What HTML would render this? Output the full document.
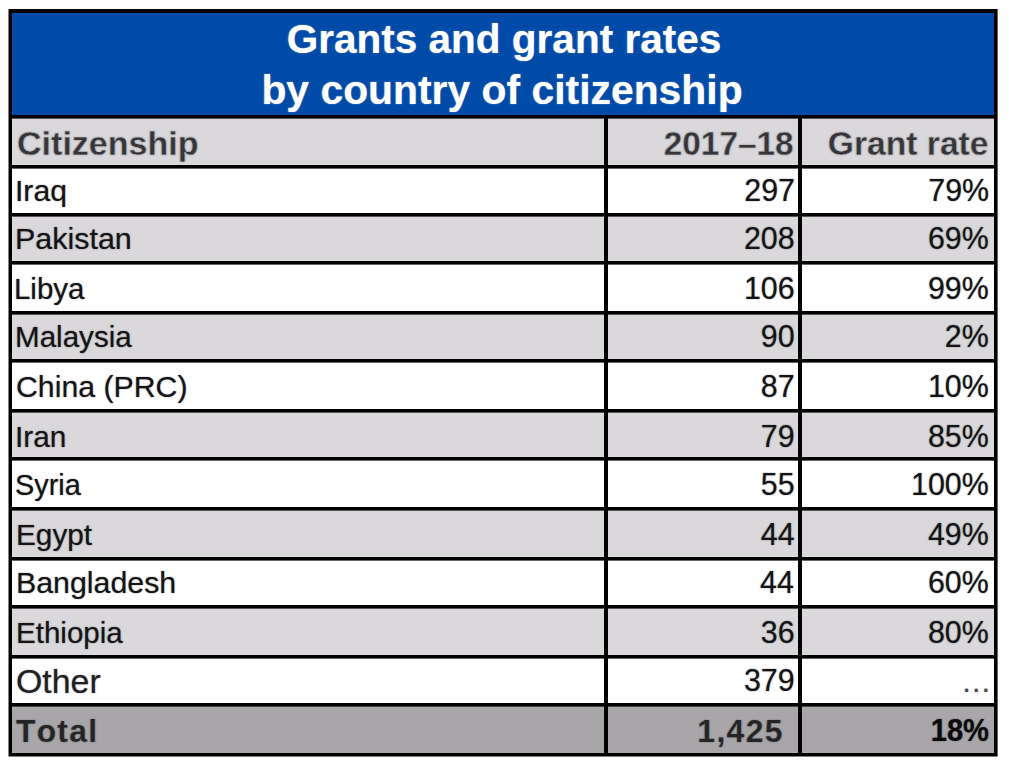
<!DOCTYPE html>
<html><head><meta charset="utf-8"><title>Grants and grant rates by country of citizenship</title>
<style>
html,body{margin:0;padding:0;}
body{width:1009px;height:771px;background:#fefefe;position:relative;overflow:hidden;font-family:"Liberation Sans",sans-serif;}
.b,.t{position:absolute;}
.t{white-space:nowrap;line-height:normal;}
#w{position:absolute;left:0;top:0;width:1009px;height:771px;background:#fefefe;}
#tw{position:absolute;left:0;top:0;width:1009px;height:771px;}
</style></head><body><div id="w">
<div class="b" style="left:8px;top:9px;width:990px;height:748px;background:#000;"></div>
<div class="b" style="left:12px;top:13px;width:982px;height:102px;background:#004aa8;"></div>
<div class="b" style="left:12px;top:119px;width:592px;height:46px;background:#dad8da;"></div>
<div class="b" style="left:608px;top:119px;width:190px;height:46px;background:#dad8da;"></div>
<div class="b" style="left:802px;top:119px;width:192px;height:46px;background:#dad8da;"></div>
<div class="b" style="left:12px;top:169px;width:592px;height:44px;background:#ffffff;"></div>
<div class="b" style="left:608px;top:169px;width:190px;height:44px;background:#ffffff;"></div>
<div class="b" style="left:802px;top:169px;width:192px;height:44px;background:#ffffff;"></div>
<div class="b" style="left:12px;top:217px;width:592px;height:44px;background:#dad8da;"></div>
<div class="b" style="left:608px;top:217px;width:190px;height:44px;background:#dad8da;"></div>
<div class="b" style="left:802px;top:217px;width:192px;height:44px;background:#dad8da;"></div>
<div class="b" style="left:12px;top:265px;width:592px;height:46px;background:#ffffff;"></div>
<div class="b" style="left:608px;top:265px;width:190px;height:46px;background:#ffffff;"></div>
<div class="b" style="left:802px;top:265px;width:192px;height:46px;background:#ffffff;"></div>
<div class="b" style="left:12px;top:315px;width:592px;height:44px;background:#dad8da;"></div>
<div class="b" style="left:608px;top:315px;width:190px;height:44px;background:#dad8da;"></div>
<div class="b" style="left:802px;top:315px;width:192px;height:44px;background:#dad8da;"></div>
<div class="b" style="left:12px;top:363px;width:592px;height:46px;background:#ffffff;"></div>
<div class="b" style="left:608px;top:363px;width:190px;height:46px;background:#ffffff;"></div>
<div class="b" style="left:802px;top:363px;width:192px;height:46px;background:#ffffff;"></div>
<div class="b" style="left:12px;top:413px;width:592px;height:44px;background:#dad8da;"></div>
<div class="b" style="left:608px;top:413px;width:190px;height:44px;background:#dad8da;"></div>
<div class="b" style="left:802px;top:413px;width:192px;height:44px;background:#dad8da;"></div>
<div class="b" style="left:12px;top:461px;width:592px;height:46px;background:#ffffff;"></div>
<div class="b" style="left:608px;top:461px;width:190px;height:46px;background:#ffffff;"></div>
<div class="b" style="left:802px;top:461px;width:192px;height:46px;background:#ffffff;"></div>
<div class="b" style="left:12px;top:511px;width:592px;height:46px;background:#dad8da;"></div>
<div class="b" style="left:608px;top:511px;width:190px;height:46px;background:#dad8da;"></div>
<div class="b" style="left:802px;top:511px;width:192px;height:46px;background:#dad8da;"></div>
<div class="b" style="left:12px;top:561px;width:592px;height:44px;background:#ffffff;"></div>
<div class="b" style="left:608px;top:561px;width:190px;height:44px;background:#ffffff;"></div>
<div class="b" style="left:802px;top:561px;width:192px;height:44px;background:#ffffff;"></div>
<div class="b" style="left:12px;top:609px;width:592px;height:46px;background:#dad8da;"></div>
<div class="b" style="left:608px;top:609px;width:190px;height:46px;background:#dad8da;"></div>
<div class="b" style="left:802px;top:609px;width:192px;height:46px;background:#dad8da;"></div>
<div class="b" style="left:12px;top:659px;width:592px;height:44px;background:#ffffff;"></div>
<div class="b" style="left:608px;top:659px;width:190px;height:44px;background:#ffffff;"></div>
<div class="b" style="left:802px;top:659px;width:192px;height:44px;background:#ffffff;"></div>
<div class="b" style="left:12px;top:707px;width:592px;height:46px;background:#a8a6a8;"></div>
<div class="b" style="left:608px;top:707px;width:190px;height:46px;background:#a8a6a8;"></div>
<div class="b" style="left:802px;top:707px;width:192px;height:46px;background:#a8a6a8;"></div>
<div class="b" style="left:12px;top:118px;width:592px;height:1px;background:rgba(218,216,218,0.4);"></div>
<div class="b" style="left:608px;top:118px;width:190px;height:1px;background:rgba(218,216,218,0.4);"></div>
<div class="b" style="left:802px;top:118px;width:192px;height:1px;background:rgba(218,216,218,0.4);"></div>
<div class="b" style="left:12px;top:168px;width:592px;height:1px;background:rgba(255,255,255,0.4);"></div>
<div class="b" style="left:608px;top:168px;width:190px;height:1px;background:rgba(255,255,255,0.4);"></div>
<div class="b" style="left:802px;top:168px;width:192px;height:1px;background:rgba(255,255,255,0.4);"></div>
<div class="b" style="left:12px;top:216px;width:592px;height:1px;background:rgba(218,216,218,0.4);"></div>
<div class="b" style="left:608px;top:216px;width:190px;height:1px;background:rgba(218,216,218,0.4);"></div>
<div class="b" style="left:802px;top:216px;width:192px;height:1px;background:rgba(218,216,218,0.4);"></div>
<div class="b" style="left:12px;top:264px;width:592px;height:1px;background:rgba(255,255,255,0.4);"></div>
<div class="b" style="left:608px;top:264px;width:190px;height:1px;background:rgba(255,255,255,0.4);"></div>
<div class="b" style="left:802px;top:264px;width:192px;height:1px;background:rgba(255,255,255,0.4);"></div>
<div class="b" style="left:12px;top:314px;width:592px;height:1px;background:rgba(218,216,218,0.4);"></div>
<div class="b" style="left:608px;top:314px;width:190px;height:1px;background:rgba(218,216,218,0.4);"></div>
<div class="b" style="left:802px;top:314px;width:192px;height:1px;background:rgba(218,216,218,0.4);"></div>
<div class="b" style="left:12px;top:362px;width:592px;height:1px;background:rgba(255,255,255,0.4);"></div>
<div class="b" style="left:608px;top:362px;width:190px;height:1px;background:rgba(255,255,255,0.4);"></div>
<div class="b" style="left:802px;top:362px;width:192px;height:1px;background:rgba(255,255,255,0.4);"></div>
<div class="b" style="left:12px;top:412px;width:592px;height:1px;background:rgba(218,216,218,0.4);"></div>
<div class="b" style="left:608px;top:412px;width:190px;height:1px;background:rgba(218,216,218,0.4);"></div>
<div class="b" style="left:802px;top:412px;width:192px;height:1px;background:rgba(218,216,218,0.4);"></div>
<div class="b" style="left:12px;top:460px;width:592px;height:1px;background:rgba(255,255,255,0.4);"></div>
<div class="b" style="left:608px;top:460px;width:190px;height:1px;background:rgba(255,255,255,0.4);"></div>
<div class="b" style="left:802px;top:460px;width:192px;height:1px;background:rgba(255,255,255,0.4);"></div>
<div class="b" style="left:12px;top:510px;width:592px;height:1px;background:rgba(218,216,218,0.4);"></div>
<div class="b" style="left:608px;top:510px;width:190px;height:1px;background:rgba(218,216,218,0.4);"></div>
<div class="b" style="left:802px;top:510px;width:192px;height:1px;background:rgba(218,216,218,0.4);"></div>
<div class="b" style="left:12px;top:560px;width:592px;height:1px;background:rgba(255,255,255,0.4);"></div>
<div class="b" style="left:608px;top:560px;width:190px;height:1px;background:rgba(255,255,255,0.4);"></div>
<div class="b" style="left:802px;top:560px;width:192px;height:1px;background:rgba(255,255,255,0.4);"></div>
<div class="b" style="left:12px;top:608px;width:592px;height:1px;background:rgba(218,216,218,0.4);"></div>
<div class="b" style="left:608px;top:608px;width:190px;height:1px;background:rgba(218,216,218,0.4);"></div>
<div class="b" style="left:802px;top:608px;width:192px;height:1px;background:rgba(218,216,218,0.4);"></div>
<div class="b" style="left:12px;top:658px;width:592px;height:1px;background:rgba(255,255,255,0.4);"></div>
<div class="b" style="left:608px;top:658px;width:190px;height:1px;background:rgba(255,255,255,0.4);"></div>
<div class="b" style="left:802px;top:658px;width:192px;height:1px;background:rgba(255,255,255,0.4);"></div>
<div class="b" style="left:12px;top:706px;width:592px;height:1px;background:rgba(168,166,168,0.4);"></div>
<div class="b" style="left:608px;top:706px;width:190px;height:1px;background:rgba(168,166,168,0.4);"></div>
<div class="b" style="left:802px;top:706px;width:192px;height:1px;background:rgba(168,166,168,0.4);"></div>
<div class="b" style="left:8px;top:756px;width:990px;height:1px;background:rgba(254,254,254,0.5);"></div>
<div class="b" style="left:8px;top:9px;width:1px;height:748px;background:rgba(254,254,254,0.5);"></div>
<div class="b" style="left:997px;top:9px;width:1px;height:748px;background:rgba(254,254,254,0.4);"></div>
<div id="tw">
<div class="t" style="top:16.06px;left:3.67px;width:1000px;text-align:center;transform-origin:50% 36.74px;font-size:40.6px;font-weight:700;color:#fff;text-shadow:0 0 1.5px rgba(255,255,255,0.55);transform:scale(0.9985,1.0);">Grants and grant rates</div>
<div class="t" style="top:67.36px;left:2.20px;width:1000px;text-align:center;transform-origin:50% 36.74px;font-size:40.6px;font-weight:700;color:#fff;text-shadow:0 0 1.5px rgba(255,255,255,0.55);transform:scale(1.0068,1.0);">by country of citizenship</div>
<div class="t" style="top:123.91px;left:16.58px;transform-origin:0 30.59px;font-size:33.8px;font-weight:700;color:#36363a;text-shadow:0 0 1.5px rgba(54,54,58,0.55);-webkit-text-stroke:0.4px #dad8da;transform:scale(1.0072,1.0);">Citizenship</div>
<div class="t" style="top:173.39px;left:14.90px;transform-origin:0 27.51px;font-size:30.4px;font-weight:400;color:#141416;text-shadow:0 0 1.5px rgba(20,20,22,0.55);transform:scale(0.9904,1.0);">Iraq</div>
<div class="t" style="top:221.29px;left:14.90px;transform-origin:0 27.51px;font-size:30.4px;font-weight:400;color:#141416;text-shadow:0 0 1.5px rgba(20,20,22,0.55);transform:scale(1.0015,1.0);">Pakistan</div>
<div class="t" style="top:271.39px;left:14.48px;transform-origin:0 27.51px;font-size:30.4px;font-weight:400;color:#141416;text-shadow:0 0 1.5px rgba(20,20,22,0.55);transform:scale(0.9686,1.0);">Libya</div>
<div class="t" style="top:319.29px;left:15.40px;transform-origin:0 27.51px;font-size:30.4px;font-weight:400;color:#141416;text-shadow:0 0 1.5px rgba(20,20,22,0.55);transform:scale(0.9731,1.0);">Malaysia</div>
<div class="t" style="top:369.39px;left:16.08px;transform-origin:0 27.51px;font-size:30.4px;font-weight:400;color:#141416;text-shadow:0 0 1.5px rgba(20,20,22,0.55);transform:scale(0.9954,1.0);">China (PRC)</div>
<div class="t" style="top:419.29px;left:14.90px;transform-origin:0 27.51px;font-size:30.4px;font-weight:400;color:#141416;text-shadow:0 0 1.5px rgba(20,20,22,0.55);transform:scale(0.9806,1.0);">Iran</div>
<div class="t" style="top:467.39px;left:15.16px;transform-origin:0 27.51px;font-size:30.4px;font-weight:400;color:#141416;text-shadow:0 0 1.5px rgba(20,20,22,0.55);transform:scale(0.9490,1.0);">Syria</div>
<div class="t" style="top:517.39px;left:15.78px;transform-origin:0 27.51px;font-size:30.4px;font-weight:400;color:#141416;text-shadow:0 0 1.5px rgba(20,20,22,0.55);transform:scale(0.9791,1.0);">Egypt</div>
<div class="t" style="top:565.39px;left:15.78px;transform-origin:0 27.51px;font-size:30.4px;font-weight:400;color:#141416;text-shadow:0 0 1.5px rgba(20,20,22,0.55);transform:scale(0.9980,1.0);">Bangladesh</div>
<div class="t" style="top:615.39px;left:15.78px;transform-origin:0 27.51px;font-size:30.4px;font-weight:400;color:#141416;text-shadow:0 0 1.5px rgba(20,20,22,0.55);transform:scale(0.9720,1.0);">Ethiopia</div>
<div class="t" style="top:661.81px;left:16.12px;transform-origin:0 30.59px;font-size:33.8px;font-weight:400;color:#202022;text-shadow:0 0 1.5px rgba(32,32,34,0.55);transform:scale(1.0021,1.0);">Other</div>
<div class="t" style="top:713.04px;left:16.38px;transform-origin:0 28.96px;font-size:32px;font-weight:700;color:#242426;text-shadow:0 0 1.5px rgba(36,36,38,0.55);-webkit-text-stroke:0.2px #a8a6a8;transform:scale(0.9921,1.0);letter-spacing:1.3px;font-kerning:none;">Total</div>
<div class="t" style="top:123.91px;right:215.86px;transform-origin:100% 30.59px;font-size:33.8px;font-weight:700;color:#36363a;text-shadow:0 0 1.5px rgba(54,54,58,0.55);-webkit-text-stroke:0.4px #dad8da;transform:scale(0.9867,1.0);">2017–18</div>
<div class="t" style="top:173.39px;right:214.02px;transform-origin:100% 27.51px;font-size:30.4px;font-weight:400;color:#141416;text-shadow:0 0 1.5px rgba(20,20,22,0.55);transform:scale(1.0000,1.01);">297</div>
<div class="t" style="top:221.29px;right:214.40px;transform-origin:100% 27.51px;font-size:30.4px;font-weight:400;color:#141416;text-shadow:0 0 1.5px rgba(20,20,22,0.55);transform:scale(1.0000,1.01);">208</div>
<div class="t" style="top:271.39px;right:214.40px;transform-origin:100% 27.51px;font-size:30.4px;font-weight:400;color:#141416;text-shadow:0 0 1.5px rgba(20,20,22,0.55);transform:scale(1.0000,1.01);">106</div>
<div class="t" style="top:319.29px;right:214.40px;transform-origin:100% 27.51px;font-size:30.4px;font-weight:400;color:#141416;text-shadow:0 0 1.5px rgba(20,20,22,0.55);transform:scale(1.0000,1.01);">90</div>
<div class="t" style="top:369.39px;right:214.40px;transform-origin:100% 27.51px;font-size:30.4px;font-weight:400;color:#141416;text-shadow:0 0 1.5px rgba(20,20,22,0.55);transform:scale(1.0000,1.01);">87</div>
<div class="t" style="top:419.29px;right:214.40px;transform-origin:100% 27.51px;font-size:30.4px;font-weight:400;color:#141416;text-shadow:0 0 1.5px rgba(20,20,22,0.55);transform:scale(1.0000,1.01);">79</div>
<div class="t" style="top:467.39px;right:214.40px;transform-origin:100% 27.51px;font-size:30.4px;font-weight:400;color:#141416;text-shadow:0 0 1.5px rgba(20,20,22,0.55);transform:scale(1.0000,1.01);">55</div>
<div class="t" style="top:517.39px;right:214.40px;transform-origin:100% 27.51px;font-size:30.4px;font-weight:400;color:#141416;text-shadow:0 0 1.5px rgba(20,20,22,0.55);transform:scale(1.0000,1.01);">44</div>
<div class="t" style="top:565.39px;right:215.20px;transform-origin:100% 27.51px;font-size:30.4px;font-weight:400;color:#141416;text-shadow:0 0 1.5px rgba(20,20,22,0.55);transform:scale(1.0000,1.01);">44</div>
<div class="t" style="top:615.39px;right:214.40px;transform-origin:100% 27.51px;font-size:30.4px;font-weight:400;color:#141416;text-shadow:0 0 1.5px rgba(20,20,22,0.55);transform:scale(1.0000,1.01);">36</div>
<div class="t" style="top:663.09px;right:214.32px;transform-origin:100% 27.51px;font-size:30.4px;font-weight:400;color:#141416;text-shadow:0 0 1.5px rgba(20,20,22,0.55);transform:scale(1.0000,1.01);">379</div>
<div class="t" style="top:713.04px;right:224.72px;transform-origin:100% 28.96px;font-size:32px;font-weight:700;color:#242426;text-shadow:0 0 1.5px rgba(36,36,38,0.55);-webkit-text-stroke:0.2px #a8a6a8;transform:scale(0.9960,1.0);letter-spacing:1.35px;font-kerning:none;">1,425</div>
<div class="t" style="top:123.91px;right:20.94px;transform-origin:100% 30.59px;font-size:33.8px;font-weight:700;color:#36363a;text-shadow:0 0 1.5px rgba(54,54,58,0.55);-webkit-text-stroke:0.4px #dad8da;transform:scale(0.9950,1.0);">Grant rate</div>
<div class="t" style="top:173.39px;right:19.90px;transform-origin:100% 27.51px;font-size:30.4px;font-weight:400;color:#141416;text-shadow:0 0 1.5px rgba(20,20,22,0.55);transform:scale(1.0000,1.01);">79%</div>
<div class="t" style="top:221.29px;right:20.28px;transform-origin:100% 27.51px;font-size:30.4px;font-weight:400;color:#141416;text-shadow:0 0 1.5px rgba(20,20,22,0.55);transform:scale(1.0000,1.01);">69%</div>
<div class="t" style="top:271.39px;right:20.28px;transform-origin:100% 27.51px;font-size:30.4px;font-weight:400;color:#141416;text-shadow:0 0 1.5px rgba(20,20,22,0.55);transform:scale(1.0000,1.01);">99%</div>
<div class="t" style="top:319.29px;right:20.28px;transform-origin:100% 27.51px;font-size:30.4px;font-weight:400;color:#141416;text-shadow:0 0 1.5px rgba(20,20,22,0.55);transform:scale(1.0000,1.01);">2%</div>
<div class="t" style="top:369.39px;right:20.28px;transform-origin:100% 27.51px;font-size:30.4px;font-weight:400;color:#141416;text-shadow:0 0 1.5px rgba(20,20,22,0.55);transform:scale(1.0000,1.01);">10%</div>
<div class="t" style="top:419.29px;right:20.28px;transform-origin:100% 27.51px;font-size:30.4px;font-weight:400;color:#141416;text-shadow:0 0 1.5px rgba(20,20,22,0.55);transform:scale(1.0000,1.01);">85%</div>
<div class="t" style="top:467.39px;right:20.28px;transform-origin:100% 27.51px;font-size:30.4px;font-weight:400;color:#141416;text-shadow:0 0 1.5px rgba(20,20,22,0.55);transform:scale(1.0000,1.01);">100%</div>
<div class="t" style="top:517.39px;right:20.28px;transform-origin:100% 27.51px;font-size:30.4px;font-weight:400;color:#141416;text-shadow:0 0 1.5px rgba(20,20,22,0.55);transform:scale(1.0000,1.01);">49%</div>
<div class="t" style="top:565.39px;right:20.28px;transform-origin:100% 27.51px;font-size:30.4px;font-weight:400;color:#141416;text-shadow:0 0 1.5px rgba(20,20,22,0.55);transform:scale(1.0000,1.01);">60%</div>
<div class="t" style="top:615.39px;right:20.28px;transform-origin:100% 27.51px;font-size:30.4px;font-weight:400;color:#141416;text-shadow:0 0 1.5px rgba(20,20,22,0.55);transform:scale(1.0000,1.01);">80%</div>
<div class="t" style="top:664.29px;right:18.08px;transform-origin:100% 27.51px;font-size:30.4px;font-weight:400;color:#48484a;text-shadow:0 0 1.5px rgba(72,72,74,0.55);transform:scale(1.0010,1.0);">…</div>
<div class="t" style="top:712.24px;right:20.24px;transform-origin:100% 28.96px;font-size:32px;font-weight:700;color:#0c0c0e;text-shadow:0 0 1.5px rgba(12,12,14,0.55);transform:scale(0.9111,1.0);">18%</div>
</div></div></body></html>
